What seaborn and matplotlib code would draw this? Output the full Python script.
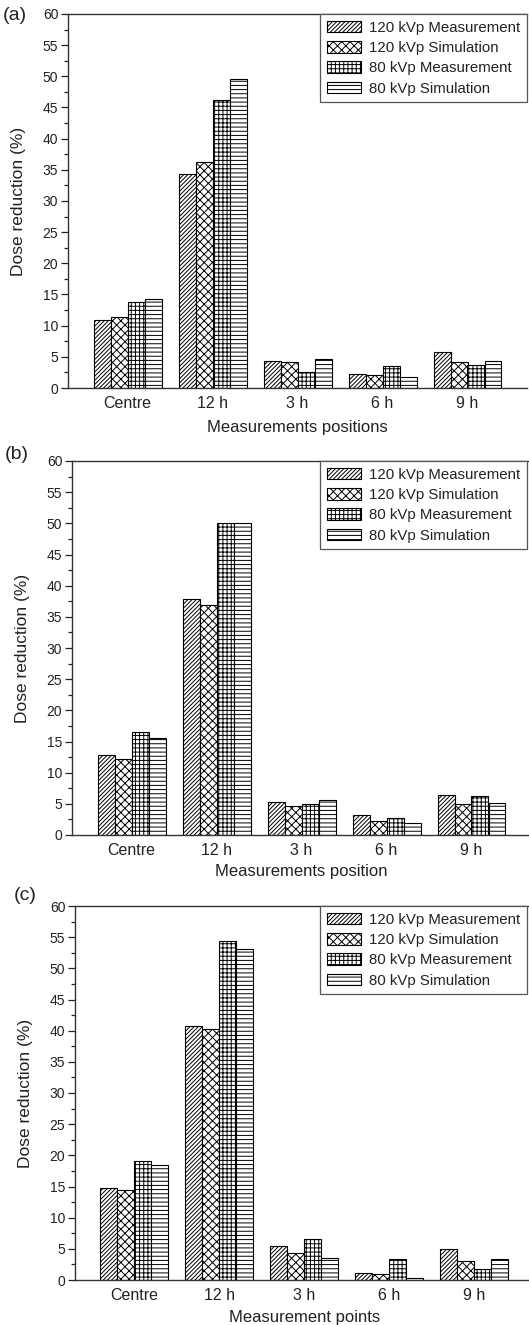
import numpy as np
import pandas as pd
import matplotlib
matplotlib.use("Agg")
import matplotlib.pyplot as plt
import seaborn as sns
from matplotlib.ticker import MultipleLocator

sns.set_style("ticks")
plt.rcParams['font.family'] = ['Liberation Sans', 'DejaVu Sans']
plt.rcParams['hatch.linewidth'] = 0.7

positions = ["Centre", "12 h", "3 h", "6 h", "9 h"]
series = ["120 kVp Measurement", "120 kVp Simulation", "80 kVp Measurement", "80 kVp Simulation"]
hatches = ["////////", "xxxx", "++++", "----"]

# Panel (a)
a_120_meas = [10.9, 34.4, 4.4, 2.3, 5.8]
a_120_sim = [11.4, 36.3, 4.1, 2.1, 4.2]
a_80_meas = [13.8, 46.2, 2.5, 3.5, 3.7]
a_80_sim = [14.2, 49.5, 4.7, 1.7, 4.4]

# Panel (b)
b_120_meas = [12.9, 37.8, 5.3, 3.2, 6.4]
b_120_sim = [12.2, 36.9, 4.7, 2.3, 5.0]
b_80_meas = [16.6, 50.1, 4.9, 2.8, 6.3]
b_80_sim = [15.5, 50.0, 5.6, 2.0, 5.1]

# Panel (c)
c_120_meas = [14.8, 40.8, 5.5, 1.2, 5.0]
c_120_sim = [14.4, 40.2, 4.3, 1.0, 3.0]
c_80_meas = [19.1, 54.4, 6.6, 3.4, 1.8]
c_80_sim = [18.4, 53.1, 3.6, 0.3, 3.4]

panel_labels = ["(a)", "(b)", "(c)"]
x_labels = ["Measurements positions", "Measurements position", "Measurement points"]
y_label = "Dose reduction (%)"

panels = [
    [a_120_meas, a_120_sim, a_80_meas, a_80_sim],
    [b_120_meas, b_120_sim, b_80_meas, b_80_sim],
    [c_120_meas, c_120_sim, c_80_meas, c_80_sim],
]

W, H = 529, 1325
fig = plt.figure(figsize=(W / 100, H / 100), dpi=100)

# (left px, top px, bottom px)
boxes = [(68, 14, 388), (72, 461, 835), (75, 906, 1280)]
xlabel_pads = [6, 4, 4.5]
label_pos = [(3, 15), (5, 454), (14, 896)]

for i, (vals, (lpx, tpx, bpx)) in enumerate(zip(panels, boxes)):
    width_px = 459
    ax = fig.add_axes([lpx / W, 1 - bpx / H, width_px / W, (bpx - tpx) / H])
    rows = []
    for s, v in zip(series, vals):
        for p, val in zip(positions, v):
            rows.append({"position": p, "series": s, "value": val})
    df = pd.DataFrame(rows)
    sns.barplot(data=df, x="position", y="value", hue="series",
                order=positions, hue_order=series,
                palette=["white"] * 4, edgecolor="black", linewidth=0.8,
                width=0.8, gap=0, saturation=1, legend=False, ax=ax, errorbar=None)
    for cont, h in zip(ax.containers, hatches):
        for patch in cont:
            patch.set_hatch(h)
            patch.set_facecolor("white")
            patch.set_edgecolor("black")
    ax.set_xlim(-0.7, 4.7)
    ax.set_ylim(0, 60)
    ax.yaxis.set_major_locator(MultipleLocator(5))
    ax.yaxis.set_minor_locator(MultipleLocator(2.5))
    ax.tick_params(axis="y", which="major", length=5, width=0.9, labelsize=10,
                   pad=2, colors="#222222", direction="out")
    ax.tick_params(axis="y", which="minor", length=3, width=0.9, direction="out",
                   colors="#222222")
    ax.tick_params(axis="x", length=0, labelsize=11.5, pad=6, colors="#222222")
    for side in ["left", "bottom", "top"]:
        ax.spines[side].set_visible(True)
        ax.spines[side].set_linewidth(1.0)
        ax.spines[side].set_color("#333333")
    ax.spines["right"].set_visible(False)
    ax.set_xlabel(x_labels[i], fontsize=12, color="#222222", labelpad=xlabel_pads[i])
    ax.set_ylabel(y_label, fontsize=12.5, color="#222222", labelpad=12)
    lx, ly = label_pos[i]
    fig.text(lx / W, 1 - ly / H, panel_labels[i], fontsize=14,
             color="#222222", ha="left", va="center")
    leg = ax.legend(handles=list(ax.containers), labels=series,
                    loc="upper left", bbox_to_anchor=((320 - lpx) / width_px, 1.0),
                    bbox_transform=ax.transAxes, borderaxespad=0,
                    fontsize=10.8, frameon=True, fancybox=False, framealpha=1,
                    edgecolor="#555555", handlelength=2.3, handleheight=0.8,
                    handletextpad=0.5, labelspacing=0.42, borderpad=0.45)
    leg.get_frame().set_linewidth(0.9)
    for t in leg.get_texts():
        t.set_color("#222222")

fig.savefig("out.png", dpi=100)
